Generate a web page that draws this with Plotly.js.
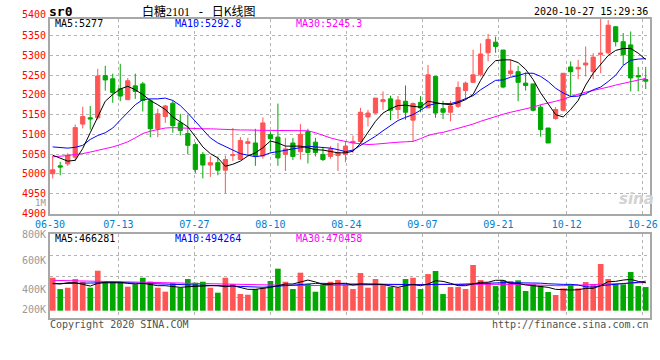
<!DOCTYPE html>
<html><head><meta charset="utf-8">
<script src="https://cdn.plot.ly/plotly-3.0.1.min.js"></script>
<style>html,body{margin:0;padding:0;background:#fff;}#chart{width:660px;height:360px;}</style>
</head><body><div id="chart"></div>
<script>
const dates = ['06-30','07-01','07-02','07-03','07-06','07-07','07-08','07-09','07-10','07-13','07-14','07-15','07-16','07-17','07-20','07-21','07-22','07-23','07-24','07-27','07-28','07-29','07-30','07-31','08-03','08-04','08-05','08-06','08-07','08-10','08-11','08-12','08-13','08-14','08-17','08-18','08-19','08-20','08-21','08-24','08-25','08-26','08-27','08-28','08-31','09-01','09-02','09-03','09-04','09-07','09-08','09-09','09-10','09-11','09-14','09-15','09-16','09-17','09-18','09-21','09-22','09-23','09-24','09-25','09-28','09-29','09-30','10-09','10-12','10-13','10-14','10-15','10-16','10-19','10-20','10-21','10-22','10-23','10-26','10-27'];

const openPrice = [5000,5020,5025,5042,5126,5142,5142,5249,5241,5216, 5188,5223,5228,5185,5114,5145,5179,5129,5102,5074, 5049,5022,5028,5009,5046,5036,5077,5078,5045,5099, 5093,5049,5078,5056,5107,5080,5049,5044,5046,5049, 5079,5082,5144,5154,5183,5190,5163,5184,5136,5181, 5167,5247,5165,5156,5171,5211,5232,5251,5307,5334, 5314,5254,5259,5230,5228,5169,5116,5140,5161,5271, 5266,5276,5259,5303,5307,5373,5335,5327,5249,5239];
const highPrice = [5045,5030,5052,5125,5170,5172,5266,5274,5254,5279, 5243,5254,5233,5190,5165,5175,5186,5152,5150,5080, 5055,5044,5044,5046,5116,5093,5091,5114,5143,5108, 5178,5091,5091,5126,5114,5091,5068,5070,5078,5082, 5097,5167,5162,5192,5209,5198,5197,5224,5181,5197, 5276,5247,5185,5185,5234,5234,5315,5331,5355,5348, 5314,5289,5274,5257,5228,5175,5116,5169,5255,5285, 5289,5323,5306,5395,5390,5375,5357,5361,5271,5271];
const lowPrice = [4988,4996,5020,5032,5115,5112,5137,5211,5180,5184, 5188,5190,5158,5093,5093,5129,5104,5097,5049,5002, 4988,4992,4996,4950,5032,5035,5046,5020,5038,5057, 5020,5007,5035,5036,5026,5044,5032,5038,5007,5029, 5053,5078,5120,5152,5162,5136,5139,5137,5082,5156, 5167,5142,5139,5133,5167,5188,5230,5247,5285,5307, 5217,5247,5184,5211,5158,5094,5078,5137,5158,5196, 5240,5247,5240,5255,5303,5323,5276,5209,5209,5215];
const closePrice = [5010,5017,5047,5117,5145,5139,5248,5238,5206,5197, 5236,5209,5186,5114,5152,5172,5122,5110,5072,5011, 5022,5028,5009,5036,5048,5084,5081,5046,5129,5089, 5040,5063,5044,5100,5054,5054,5036,5063,5054,5070, 5082,5156,5154,5192,5188,5161,5187,5156,5178,5167, 5251,5154,5156,5172,5219,5230,5251,5304,5341,5323, 5220,5261,5232,5224,5161,5112,5078,5163,5255,5259, 5270,5281,5296,5306,5377,5335,5302,5243,5246,5235];

const ma5 = [5047,5040,5032,5034,5064,5104,5146,5184,5201,5215, 5222,5213,5201,5186,5175,5163,5144,5131,5119,5094, 5068,5051,5040,5019,5024,5032,5045,5053,5066,5083, 5078,5070,5070,5070,5066,5061,5060,5057,5053,5053, 5057,5077,5104,5133,5154,5165,5173,5174,5171,5169, 5184,5180,5177,5175,5180,5188,5201,5237,5268,5287, 5289,5289,5282,5265,5239,5205,5178,5150,5144,5163, 5186,5225,5255,5278,5300,5313,5318,5318,5306,5290];
const ma10 = [5068,5067,5065,5067,5072,5087,5097,5104,5116,5136, 5156,5175,5188,5190,5190,5192,5186,5173,5154,5133, 5112,5091,5078,5068,5060,5051,5047,5043,5046,5053, 5056,5060,5063,5066,5070,5068,5066,5065,5061,5056, 5060,5072,5082,5095,5109,5122,5135,5143,5150,5161, 5173,5178,5178,5178,5183,5190,5198,5213,5226,5237, 5238,5245,5249,5255,5255,5247,5234,5217,5205,5196, 5197,5203,5213,5220,5234,5250,5275,5288,5291,5292];
const ma30 = [5043,5044,5046,5049,5051,5055,5059,5063,5068,5074, 5081,5091,5102,5108,5112,5116,5117,5116,5115,5115, 5114,5114,5113,5112,5112,5111,5111,5110,5110,5110, 5110,5109,5109,5110,5109,5104,5097,5091,5086,5082, 5078,5076,5074,5075,5077,5079,5080,5081,5082,5089, 5097,5102,5105,5110,5115,5121,5126,5133,5139,5146, 5151,5156,5160,5165,5169,5175,5179,5184,5189,5196, 5202,5207,5211,5216,5220,5225,5229,5233,5237,5242];

// volumes in thousands of lots
const volumeK = [551,362,384,529,484,384,668,484,484,484, 401,441,551,485,384,318,457,384,529,468, 484,384,301,551,446,279,267,362,384,496, 702,484,362,635,445,317,440,484,512,429, 362,629,384,529,440,395,384,529,551,362, 612,663,278,395,395,362,763,512,468,412, 507,496,507,329,440,418,312,262,373,440, 373,479,445,780,529,440,440,646,412,395];
const volMa5K = [457,446,468,468,440,412,457,475,475,475, 457,446,457,440,418,418,400,390,400,410, 418,418,418,400,418,390,357,357,373,390, 418,446,446,485,512,480,440,440,457,457, 429,446,440,440,440,412,390,418,440,418, 446,500,490,457,418,418,450,475,475,508, 508,457,457,430,418,400,390,357,350,346, 350,373,373,418,485,490,512,524,490,466];
const volMa10K = [450,450,452,455,458,462,465,468,468,468, 465,460,457,455,450,446,440,440,440,435, 430,425,418,415,410,405,400,395,392,400, 410,420,428,435,445,455,457,450,440,444, 446,446,446,444,440,440,440,438,432,430, 435,440,445,440,440,445,457,465,468,468, 468,468,468,468,465,460,450,440,440,440, 430,400,395,418,430,440,445,460,475,494];
const volMa30K = [507,505,503,500,495,490,487,485,485,484, 482,478,476,474,470,468,465,462,458,455, 452,448,445,442,440,435,430,426,424,424, 423,422,421,420,420,420,420,421,422,424, 426,428,430,432,434,436,438,440,440,440, 440,440,440,440,441,442,443,444,445,446, 447,446,445,440,432,425,420,418,418,420, 425,430,436,442,448,455,460,465,468,470];

const dateTicks = ['06-30','07-13','07-27','08-10','08-24','09-07','09-21','10-12','10-26'];
const priceTicks = [4900,4950,5000,5050,5100,5150,5200,5250,5300,5350];
const volTickLabels = ['1M','800K','600K','400K','200K'];
const priceMaLabels = ['MA5:5277','MA10:5292.8','MA30:5245.3'];
const volMaLabels = ['MA5:466281','MA10:494264','MA30:470458'];

const UP = '#ff5555', DOWN = '#00a800';
const MONO = 'DejaVu Sans Mono, monospace';
const GRID = '#b4b4b4', FRAME = '#a8a8a8';
const volume = volumeK.map(v => v * 1000);
const volColors = closePrice.map((c, i) => c >= openPrice[i] ? UP : DOWN);

const W = 660, H = 360, L = 50, R = 10;
const PX = x => (x - L) / (W - L - R);
const PY = y => (H - y) / H;
const X_RANGE = [-0.36, 79.57];
// Sina spaces its date grid slightly wider than its candle slots
const GRID_STEP = 1.0124;
const dateTickPos = dateTicks.map(d => X_RANGE[0] + dates.indexOf(d) * GRID_STEP);
const volRange = [-121900, 1276200];
const volGrid = [1, 2, 3].map(k => volRange[0] + k * (volRange[1] - volRange[0]) / 4);

const traces = [
  {type:'candlestick', x:dates, open:openPrice, high:highPrice, low:lowPrice, close:closePrice,
   xaxis:'x', yaxis:'y', whiskerwidth:0, hoverinfo:'skip',
   increasing:{line:{color:UP, width:1}, fillcolor:UP},
   decreasing:{line:{color:DOWN, width:1}, fillcolor:DOWN}},
  {type:'scatter', mode:'lines', x:dates, y:ma30, xaxis:'x', yaxis:'y', line:{color:'#ff00ff', width:1}, hoverinfo:'skip'},
  {type:'scatter', mode:'lines', x:dates, y:ma10, xaxis:'x', yaxis:'y', line:{color:'#0000ff', width:1}, hoverinfo:'skip'},
  {type:'scatter', mode:'lines', x:dates, y:ma5, xaxis:'x', yaxis:'y', line:{color:'#000000', width:1}, hoverinfo:'skip'},
  {type:'bar', x:dates, y:volume, xaxis:'x2', yaxis:'y2', marker:{color:volColors, line:{width:0}}, hoverinfo:'skip'},
  {type:'scatter', mode:'lines', x:dates, y:volMa30K.map(v=>v*1000), xaxis:'x2', yaxis:'y2', line:{color:'#ff00ff', width:1}, hoverinfo:'skip'},
  {type:'scatter', mode:'lines', x:dates, y:volMa10K.map(v=>v*1000), xaxis:'x2', yaxis:'y2', line:{color:'#0000ff', width:1}, hoverinfo:'skip'},
  {type:'scatter', mode:'lines', x:dates, y:volMa5K.map(v=>v*1000), xaxis:'x2', yaxis:'y2', line:{color:'#000000', width:1}, hoverinfo:'skip'}
];

const xCommon = {type:'category', categoryorder:'array', categoryarray:dates, range:X_RANGE,
  tickmode:'array', tickvals:dateTickPos, ticktext:dateTicks, showgrid:true, gridcolor:GRID, griddash:'dot', gridwidth:1,
  showline:true, mirror:true, linecolor:FRAME, linewidth:2, ticks:'', zeroline:false, fixedrange:true, automargin:false};

function ann(text, x, y, color, anchor, opts) {
  return Object.assign({xref:'paper', yref:'paper', x:PX(x), y:PY(y), text:text, showarrow:false,
    xanchor:anchor, yanchor:'middle', borderpad:0, font:{family:MONO, size:10, color:color}}, opts || {});
}

const annotations = [
  ann('<b>sr0</b>', 48, 11.5, '#000', 'left', {font:{family:MONO, size:13, color:'#000'}}),
  ann('白糖<span style="font-family:Liberation Serif">2101</span><span style="font-family:DejaVu Sans Mono"> - </span>日K线图', 141, 10.5, '#000', 'left', {font:{family:'Noto Sans CJK SC', size:12, color:'#000'}}),
  ann('2020-10-27 15:29:36', 649, 11.5, '#000', 'right'),
  ann(priceMaLabels[0], 54, 24, '#000', 'left'),
  ann(priceMaLabels[1], 174, 24, '#0000ff', 'left'),
  ann(priceMaLabels[2], 295, 24, '#ff00ff', 'left'),
  ann(volMaLabels[0], 54, 238.5, '#000', 'left'),
  ann(volMaLabels[1], 174, 238.5, '#0000ff', 'left'),
  ann(volMaLabels[2], 295, 238.5, '#ff00ff', 'left'),
  ann('5400', 47, 15, '#ff0000', 'right'),
  ann(volTickLabels[0], 47, 202.5, '#999', 'right', {font:{family:MONO, size:9, color:'#999'}}),
  ann(volTickLabels[1], 47, 234.5, '#999', 'right'),
  ann(volTickLabels[2], 47, 260.7, '#999', 'right'),
  ann(volTickLabels[3], 47, 289.5, '#999', 'right'),
  ann(volTickLabels[4], 47, 309.5, '#999', 'right'),
  ann('Copyright 2020 SINA.COM', 49, 324, '#505050', 'left'),
  ann('http://finance.sina.com.cn', 650, 324, '#505050', 'right'),
  ann('<i><b>sina</b></i>', 636, 199, '#d0d0d0', 'center', {font:{family:'DejaVu Sans', size:15, color:'#d2d2d2'}})
];

const layout = {
  width:W, height:H, margin:{l:L, r:R, t:0, b:0}, paper_bgcolor:'#fff', plot_bgcolor:'#fff',
  showlegend:false, boxgap:0.2, bargap:0.25, hovermode:false,
  xaxis:Object.assign({}, xCommon, {anchor:'y', rangeslider:{visible:false},
    tickfont:{family:MONO, size:10, color:'#0080d0'}}),
  yaxis:{domain:[PY(213.5), PY(18.5)], range:[4899, 5394], anchor:'x', tickmode:'array', tickvals:priceTicks,
    showgrid:true, gridcolor:GRID, griddash:'dot', gridwidth:1, showline:true, mirror:true, linecolor:FRAME, linewidth:2,
    ticks:'', zeroline:false, tickfont:{family:MONO, size:10, color:'#ff0000'}, fixedrange:true, automargin:false},
  xaxis2:Object.assign({}, xCommon, {anchor:'y2', showticklabels:false}),
  yaxis2:{domain:[PY(318), PY(234.3)], range:volRange, anchor:'x2', tickmode:'array', tickvals:volGrid,
    showticklabels:false, showgrid:true, gridcolor:GRID, griddash:'dot', gridwidth:1, showline:true, mirror:true,
    linecolor:FRAME, linewidth:2, ticks:'', zeroline:false, fixedrange:true, automargin:false},
  annotations:annotations
};

Plotly.newPlot('chart', traces, layout, {staticPlot:true, displayModeBar:false});
</script>
</body></html>
